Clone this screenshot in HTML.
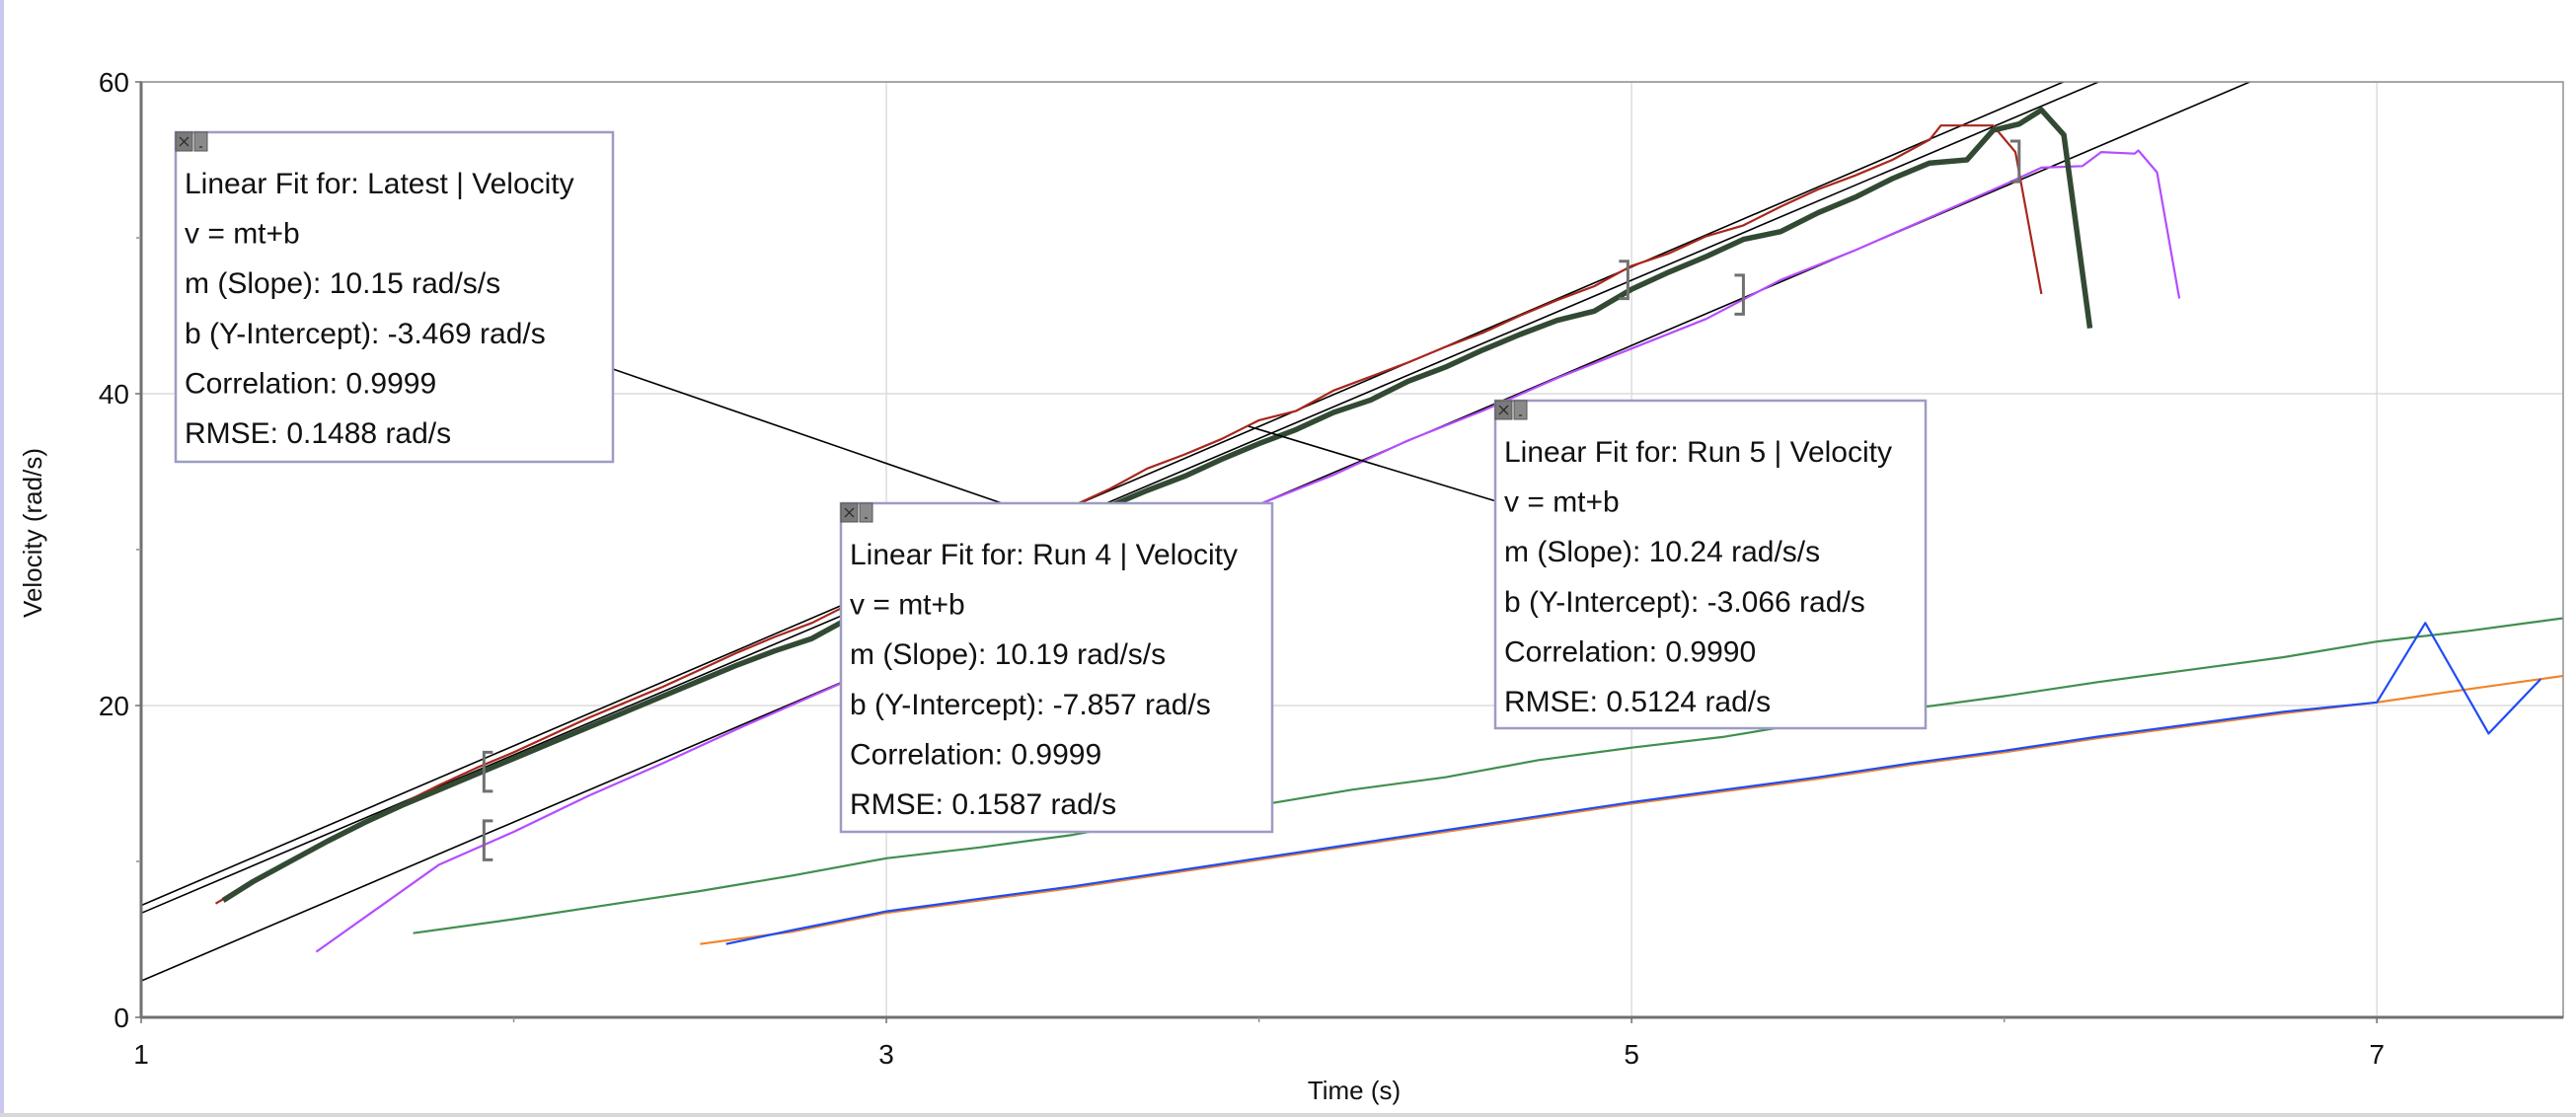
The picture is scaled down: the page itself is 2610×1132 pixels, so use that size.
<!DOCTYPE html>
<html><head><meta charset="utf-8"><style>
html,body{margin:0;padding:0;background:#fff;}
svg{display:block;font-family:"Liberation Sans",sans-serif;}
</style></head><body>
<svg id="chart" width="2610" height="1132" viewBox="0 0 2610 1132" xmlns="http://www.w3.org/2000/svg">
<defs><clipPath id="pc"><rect x="143" y="83" width="2454" height="948"/></clipPath></defs>
<rect x="0" y="0" width="4" height="1132" fill="#c8c8f0"/>
<rect x="0" y="1128" width="2610" height="4" fill="#d8d8d8"/>
<g id="grid"></g>
<g id="fits" clip-path="url(#pc)"></g>
<g id="series" clip-path="url(#pc)"></g>
<g id="axes"></g>
<g id="brackets"></g>
<g id="boxes"></g>
</svg>
<script>
const xTicks = [1, 3, 5, 7];
const xMinor = [2, 4, 6];
const yTicks = [0, 20, 40, 60];
const yMinor = [10, 30, 50];
const fitNames = ["Latest", "Run 4", "Run 5"];
const fitSlopes = [10.15, 10.19, 10.24];
const fitIntercepts = [-3.469, -7.857, -3.066];
const fitCorr = ["0.9999", "0.9999", "0.9990"];
const fitRmse = ["0.1488", "0.1587", "0.5124"];

const latestT = [1.22,1.3,1.4,1.5,1.6,1.7,1.8,1.9,2.0,2.1,2.2,2.3,2.4,2.5,2.6,2.7,2.8,2.9,3.0,3.1,3.2,3.3,3.4,3.5,3.6,3.7,3.8,3.9,4.0,4.1,4.2,4.3,4.4,4.5,4.6,4.7,4.8,4.9,5.0,5.1,5.2,5.3,5.4,5.5,5.6,5.7,5.8,5.9,5.97,6.04,6.1,6.16,6.23];
const latestV = [7.5,8.7,10.0,11.3,12.5,13.6,14.6,15.6,16.6,17.6,18.6,19.6,20.6,21.6,22.6,23.5,24.3,25.6,26.7,27.6,28.8,29.8,30.7,31.8,32.8,33.8,34.7,35.8,36.8,37.7,38.8,39.6,40.8,41.7,42.8,43.8,44.7,45.3,46.7,47.8,48.8,49.9,50.4,51.6,52.6,53.8,54.8,55.0,56.9,57.3,58.2,56.6,44.2];
const run5T = [1.2,1.3,1.4,1.5,1.6,1.7,1.8,1.9,2.0,2.1,2.2,2.3,2.4,2.5,2.6,2.7,2.8,2.9,3.0,3.1,3.2,3.3,3.4,3.5,3.6,3.7,3.8,3.9,4.0,4.1,4.2,4.3,4.4,4.5,4.6,4.7,4.8,4.9,5.0,5.1,5.2,5.3,5.4,5.5,5.6,5.7,5.8,5.83,5.97,6.03,6.1];
const run5V = [7.3,8.7,10.0,11.3,12.5,13.7,14.9,16.0,17.0,18.1,19.2,20.2,21.2,22.3,23.4,24.4,25.3,26.5,27.6,28.6,29.7,30.7,31.8,32.8,33.9,35.2,36.1,37.1,38.3,38.9,40.2,41.1,42.0,43.0,43.9,45.0,46.0,46.9,48.2,49.0,50.1,50.8,52.0,53.1,54.0,55.0,56.3,57.2,57.2,55.5,46.4];
const run4T = [1.47,1.8,2.0,2.2,2.4,2.6,2.8,3.0,3.2,3.4,3.6,3.8,4.0,4.2,4.4,4.6,4.8,5.0,5.2,5.4,5.6,5.8,6.0,6.1,6.21,6.26,6.35,6.36,6.41,6.47];
const run4V = [4.2,9.8,11.9,14.2,16.3,18.5,20.6,22.7,24.6,26.8,28.7,30.8,32.9,34.8,37.0,38.9,41.0,42.9,44.8,47.3,49.2,51.3,53.4,54.5,54.6,55.5,55.4,55.6,54.2,46.1];
const greenT = [1.73,2.0,2.25,2.5,2.75,3.0,3.25,3.5,3.75,4.0,4.25,4.5,4.75,5.0,5.25,5.5,5.75,6.0,6.25,6.5,6.75,7.0,7.25,7.5];
const greenV = [5.4,6.3,7.2,8.1,9.1,10.2,10.9,11.7,12.8,13.6,14.6,15.4,16.5,17.3,18.0,19.0,19.8,20.6,21.5,22.3,23.1,24.1,24.8,25.6];
const blueT = [2.57,2.75,3.0,3.25,3.5,3.75,4.0,4.25,4.5,4.75,5.0,5.25,5.5,5.75,6.0,6.25,6.5,6.75,7.0,7.13,7.3,7.44];
const blueV = [4.7,5.6,6.8,7.6,8.4,9.3,10.2,11.1,12.0,12.9,13.8,14.6,15.4,16.3,17.1,18.0,18.8,19.6,20.2,25.3,18.2,21.7];
const orangeT = [2.5,2.75,3.0,3.25,3.5,3.75,4.0,4.25,4.5,4.75,5.0,5.25,5.5,5.75,6.0,6.25,6.5,6.75,7.0,7.2,7.5];
const orangeV = [4.7,5.5,6.7,7.5,8.3,9.2,10.1,11.0,11.9,12.8,13.7,14.5,15.3,16.2,17.0,17.9,18.7,19.5,20.2,20.9,21.9];

const NS = "http://www.w3.org/2000/svg";
const L = 143, R = 2597, T = 83, B = 1031, XMIN = 1, XMAX = 7.5, YMIN = 0, YMAX = 60;
function X(t){ return L + (t - XMIN) / (XMAX - XMIN) * (R - L); }
function Y(v){ return B - (v - YMIN) / (YMAX - YMIN) * (B - T); }
function mk(tag, attrs, parent){ const e = document.createElementNS(NS, tag); for (const k in attrs) e.setAttribute(k, attrs[k]); parent.appendChild(e); return e; }

const grid = document.getElementById('grid');
for (const t of xTicks) { if (t === XMIN) continue;
  const g = mk('line', {x1:X(t), x2:X(t), y1:T, y2:B, stroke:'#dcdcdc', 'stroke-width':1.5}, grid);
  
   }
for (const v of yTicks) { if (v === YMIN) continue;
  const g = mk('line', {x1:L, x2:R, y1:Y(v), y2:Y(v), stroke:'#dcdcdc', 'stroke-width':1.5}, grid);
  
   }

const axes = document.getElementById('axes');
const frame = mk('rect', {x:L, y:T, width:R-L, height:B-T, fill:'none', stroke:'#909090', 'stroke-width':1.5}, axes);


const xa = mk('line', {x1:L, x2:R, y1:B, y2:B, stroke:'#707070', 'stroke-width':3}, axes);


const ya = mk('line', {x1:L, x2:L, y1:T, y2:B, stroke:'#707070', 'stroke-width':3}, axes);


for (const t of xTicks) {
  mk('line', {x1:X(t), x2:X(t), y1:B, y2:B+6, stroke:'#707070', 'stroke-width':1.5}, axes);
  const tx = mk('text', {x:X(t), y:B+47, 'font-size':28, 'text-anchor':'middle', fill:'#111'}, axes);
  tx.textContent = t;
  
  
}
for (const t of xMinor) { mk('line', {x1:X(t), x2:X(t), y1:B, y2:B+5, stroke:'#909090', 'stroke-width':1.5}, axes); }
for (const v of yTicks) {
  mk('line', {x1:L-6, x2:L, y1:Y(v), y2:Y(v), stroke:'#707070', 'stroke-width':1.5}, axes);
  const tx = mk('text', {x:L-12, y:Y(v)+10, 'font-size':28, 'text-anchor':'end', fill:'#111'}, axes);
  tx.textContent = v;
  
  
}
for (const v of yMinor) { mk('line', {x1:L-5, x2:L, y1:Y(v), y2:Y(v), stroke:'#909090', 'stroke-width':1.5}, axes); }
const xt = mk('text', {x:1372, y:1114, 'font-size':26, 'text-anchor':'middle', fill:'#111'}, axes);
xt.textContent = 'Time (s)';


const yt = mk('text', {x:0, y:0, 'font-size':26, 'text-anchor':'middle', fill:'#111', transform:'translate(42,540) rotate(-90)'}, axes);
yt.textContent = 'Velocity (rad/s)';



const fits = document.getElementById('fits');
for (let i = 0; i < fitSlopes.length; i++) {
  const m = fitSlopes[i], b = fitIntercepts[i];
  const ln = mk('line', {x1:X(XMIN), y1:Y(m*XMIN+b), x2:X(XMAX), y2:Y(m*XMAX+b), stroke:'#000', 'stroke-width':1.6}, fits);
  
  
}

const series = document.getElementById('series');
function drawSeries(ts, vs, color, w, name){
  const d = ts.map((t,i)=>(i?'L':'M')+X(t).toFixed(1)+','+Y(vs[i]).toFixed(1)).join(' ');
  const p = mk('path', {d:d, fill:'none', stroke:color, 'stroke-width':w, 'stroke-linejoin':'round'}, series);
  
  
}
drawSeries(greenT, greenV, '#3f8f4f', 2.2, 'series-green');
drawSeries(orangeT, orangeV, '#f0842c', 2.2, 'series-orange');
drawSeries(blueT, blueV, '#1f4cf5', 2.2, 'series-blue');
drawSeries(run4T, run4V, '#b54cff', 2.2, 'series-run-4');
drawSeries(run5T, run5V, '#a8261c', 2.2, 'series-run-5');
drawSeries(latestT, latestV, '#324a33', 5.5, 'series-latest');

const br = document.getElementById('brackets');
function bracket(t, v1, v2, left){
  const x = X(t), y1 = Y(v1), y2 = Y(v2), d = left ? 9 : -9;
  const p = mk('path', {d:`M${x+d},${y1} L${x},${y1} L${x},${y2} L${x+d},${y2}`, fill:'none', stroke:'#707070', 'stroke-width':3}, br);
  
  
}
bracket(1.92, 17.0, 14.5, true);
bracket(1.92, 12.6, 10.1, true);
bracket(4.99, 48.5, 46.1, false);
bracket(5.3, 47.6, 45.1, false);
bracket(6.04, 56.2, 53.6, false);

const bx = document.getElementById('boxes');
const l1 = mk('line', {x1:621, y1:374, x2:1018, y2:511, stroke:'#000', 'stroke-width':1.6}, bx);


const l2 = mk('line', {x1:1265, y1:432, x2:1516, y2:508, stroke:'#000', 'stroke-width':1.6}, bx);



const boxPos = [[178,134,443,334],[852,510,437,333],[1515,406,436,332]];
for (let i = 0; i < fitNames.length; i++) {
  const [x,y,w,h] = boxPos[i];
  const g = mk('g', {}, bx);
  
  
  mk('rect', {x:x, y:y, width:w, height:h, fill:'#fff', stroke:'#9c9cc4', 'stroke-width':2.5}, g);
  const cb = mk('rect', {x:x, y:y, width:17, height:19, fill:'#7a7a7a', stroke:'#555', 'stroke-width':1}, g);
  
  
  mk('path', {d:`M${x+4},${y+5} L${x+13},${y+14} M${x+13},${y+5} L${x+4},${y+14}`, stroke:'#222', 'stroke-width':1.2}, g);
  const mb = mk('rect', {x:x+19, y:y, width:13, height:19, fill:'#8a8a8a', stroke:'#555', 'stroke-width':1}, g);
  
  
  mk('line', {x1:x+24, x2:x+27, y1:y+15, y2:y+15, stroke:'#222', 'stroke-width':1.2}, g);
  const lines = ['Linear Fit for: ' + fitNames[i] + ' | Velocity', 'v = mt+b',
    'm (Slope): ' + fitSlopes[i].toFixed(2) + ' rad/s/s',
    'b (Y-Intercept): ' + fitIntercepts[i].toFixed(3) + ' rad/s',
    'Correlation: ' + fitCorr[i], 'RMSE: ' + fitRmse[i] + ' rad/s'];
  lines.forEach((s, j) => {
    const tx = mk('text', {x:x+9, y:y+62+j*50.6, 'font-size':30, fill:'#111'}, g);
    tx.textContent = s;
    
    
  });
}
</script>
</body></html>
